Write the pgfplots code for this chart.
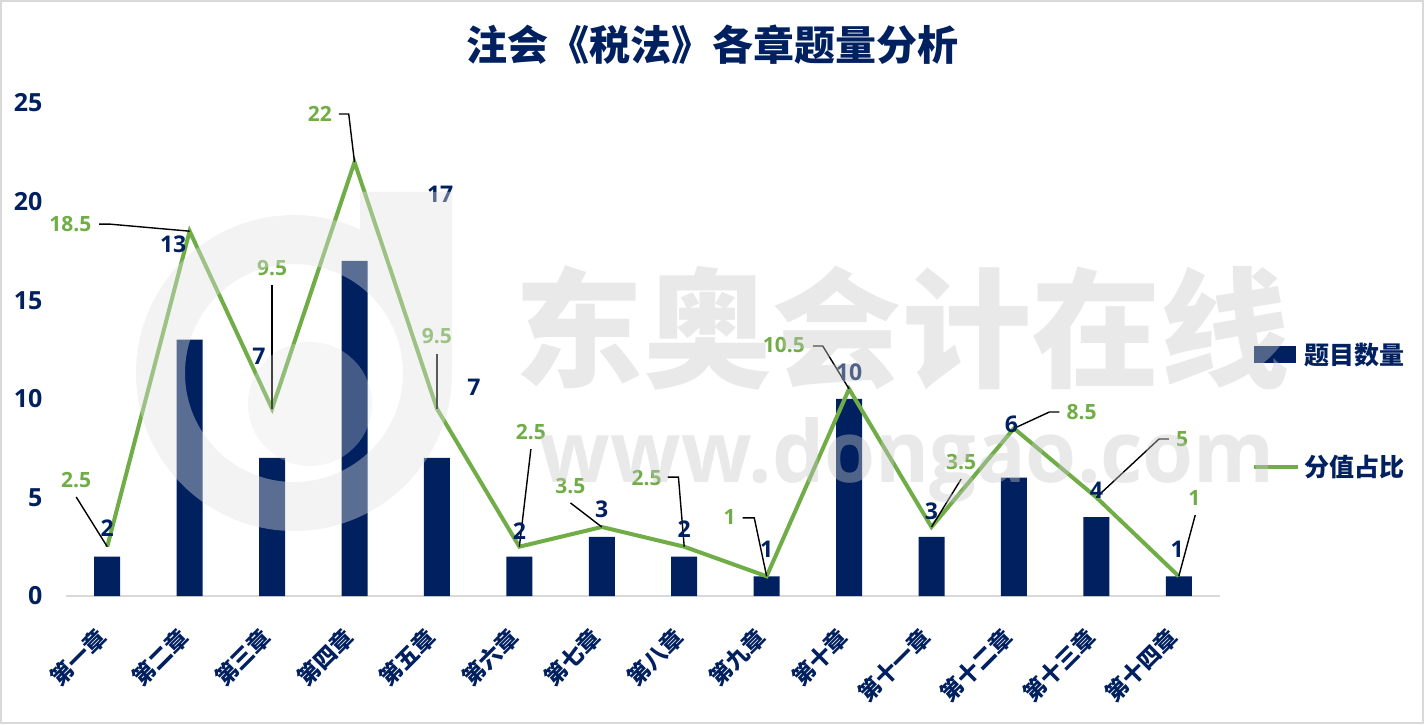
\documentclass[border=0pt]{standalone}
\usepackage{fontspec}
\setmainfont{Open Sans}
\newfontfamily\cjk{Noto Sans CJK SC}
\usepackage{pgfplots}
\pgfplotsset{compat=1.18}
\definecolor{navy}{HTML}{002060}
\definecolor{lgreen}{HTML}{70AD47}
\definecolor{wm}{HTML}{E3E3E3}
\definecolor{wmt}{HTML}{C8C8C8}
\tikzset{
  bl/.style={font=\bfseries\fontsize{11.5}{13}\selectfont, text=navy, inner sep=0pt},
  gl/.style={font=\bfseries\fontsize{10.5}{12}\selectfont, text=lgreen, inner sep=0pt},
  ld/.style={draw=black, line width=0.7pt},
}
\begin{document}
\begin{tikzpicture}
\useasboundingbox (0,0) rectangle (712pt,362pt);
\fill[white] (0,0) rectangle (712pt,362pt);
\begin{axis}[
  at={(33pt,64pt)}, anchor=south west,
  scale only axis, width=577pt, height=246.5pt,
  xmin=-0.5, xmax=13.5, ymin=0, ymax=25,
  axis x line=bottom, axis y line=left,
  axis line style={-},
  x axis line style={draw=black!15, line width=1pt},
  y axis line style={draw=none},
  tick style={draw=none},
  xtick={0,...,13},
  xticklabels={第一章,第二章,第三章,第四章,第五章,第六章,第七章,第八章,第九章,第十章,第十一章,第十二章,第十三章,第十四章},
  ytick={0,5,...,25},
  clip=false,
  /pgf/number format/assume math mode=true,
  yticklabel style={font=\bfseries\fontsize{12.5}{14}\selectfont, text=navy, anchor=east, inner sep=0pt, xshift=-9.5pt},
  xticklabel style={font=\cjk\bfseries\fontsize{11.3}{13}\selectfont, text=navy, inner sep=0pt, xshift=-2.5pt, yshift=-16.5pt, rotate=45, anchor=east},
  legend style={at={(1.0277,0.375)}, anchor=west, draw=none, fill=none,
    font=\cjk\bfseries\fontsize{12.5}{14}\selectfont, text=navy, row sep=40pt, inner sep=0pt},
  legend cell align=left,
]
\addplot[ybar, bar width=13pt, bar shift=0pt, fill=navy, draw=none,
  legend image code/.code={\fill[navy] (0pt,-4.25pt) rectangle (21pt,4.25pt);}]
  coordinates {(0,2) (1,13) (2,7) (3,17) (4,7) (5,2) (6,3) (7,2) (8,1) (9,10) (10,3) (11,6) (12,4) (13,1)};
\addlegendentry{题目数量}
\addplot[lgreen, line width=2pt, mark=none, sharp plot, line join=miter,
  legend image code/.code={\draw[lgreen, line width=2pt] (0pt,0pt) -- (22pt,0pt);}]
  coordinates {(0,2.5) (1,18.5) (2,9.5) (3,22) (4,9.5) (5,2.5) (6,3.5) (7,2.5) (8,1) (9,10.5) (10,3.5) (11,8.5) (12,5) (13,1)};
\addlegendentry{分值占比}

\draw[ld] (axis cs:-0.376,5.02) -- (axis cs:0,2.5);
\draw[ld] (axis cs:-0.097,18.86) -- (axis cs:0.024,18.86) -- (axis cs:1,18.5);
\draw[ld] (axis cs:2,15.77) -- (axis cs:2,9.5);
\draw[ld] (axis cs:2.81,24.44) -- (axis cs:2.93,24.44) -- (axis cs:3,22);
\draw[ld] (axis cs:4,12.27) -- (axis cs:4,9.5);
\draw[ld] (axis cs:5.14,7.45) -- (axis cs:5,2.5);
\draw[ld] (axis cs:5.62,4.72) -- (axis cs:6,3.5);
\draw[ld] (axis cs:6.80,6.03) -- (axis cs:6.93,6.03) -- (axis cs:7,2.5);
\draw[ld] (axis cs:7.71,3.96) -- (axis cs:7.85,3.96) -- (axis cs:8,1);
\draw[ld] (axis cs:8.56,12.68) -- (axis cs:8.68,12.68) -- (axis cs:9,10.5);
\draw[ld] (axis cs:10.36,5.93) -- (axis cs:10,3.5);
\draw[ld] (axis cs:11,8.5) -- (axis cs:11.43,9.33) -- (axis cs:11.55,9.33);
\draw[ld] (axis cs:12.88,7.96) -- (axis cs:12.76,7.96) -- (axis cs:12,5);
\draw[ld] (axis cs:13.2,4.11) -- (axis cs:13,1);

\node[gl] at (axis cs:-0.376,5.88) {2.5};
\node[bl] at (axis cs:0,3.45) {2};
\node[gl] at (axis cs:-0.448,18.86) {18.5};
\node[bl] at (axis cs:0.8,17.85) {13};
\node[gl] at (axis cs:2,16.63) {9.5};
\node[bl] at (axis cs:1.84,12.17) {7};
\node[gl] at (axis cs:2.58,24.44) {22};
\node[bl] at (axis cs:4.04,20.39) {17};
\node[gl] at (axis cs:4,13.18) {9.5};
\node[bl] at (axis cs:4.45,10.6) {7};
\node[gl] at (axis cs:5.14,8.32) {2.5};
\node[bl] at (axis cs:5,3.30) {2};
\node[gl] at (axis cs:5.62,5.58) {3.5};
\node[bl] at (axis cs:6,4.41) {3};
\node[gl] at (axis cs:6.545,5.98) {2.5};
\node[bl] at (axis cs:7,3.40) {2};
\node[gl] at (axis cs:7.55,4.01) {1};
\node[bl] at (axis cs:8,2.38) {1};
\node[gl] at (axis cs:8.21,12.73) {10.5};
\node[bl] at (axis cs:9,11.36) {10};
\node[gl] at (axis cs:10.36,6.80) {3.5};
\node[bl] at (axis cs:10,4.31) {3};
\node[gl] at (axis cs:11.82,9.33) {8.5};
\node[bl] at (axis cs:10.97,8.72) {6};
\node[gl] at (axis cs:13.04,7.96) {5};
\node[bl] at (axis cs:12,5.38) {4};
\node[gl] at (axis cs:13.19,4.97) {1};
\node[bl] at (axis cs:12.98,2.38) {1};
\end{axis}

% title
\node[font=\cjk\bfseries\fontsize{20.5}{24}\selectfont, text=navy, inner sep=0pt] at (356pt,339.5pt) {注会《税法》各章题量分析};

% watermark overlay
\begin{scope}[opacity=0.4]
\fill[wm, even odd rule] (226pt,175.5pt) arc[start angle=0, end angle=-294.7, radius=79pt] -- (180pt,266pt) -- (226pt,266pt) -- cycle
  (147pt,175.5pt) circle[radius=54.5pt];
\end{scope}
\fill[wm, opacity=0.3] (155pt,160pt) circle[radius=31pt];
\node[text=wmt, text opacity=0.4, anchor=center, inner sep=0pt] at (451pt,198pt) {\resizebox{387.5pt}{!}{\cjk\bfseries 东奥会计在线}};
\node[text=wmt, text opacity=0.4, anchor=base, inner sep=0pt] at (453.75pt,121pt) {\resizebox{367.5pt}{32.5pt}{\bfseries www.dongao.com}};

\draw[black!15, line width=1pt] (0.5pt,0.5pt) rectangle (711.5pt,361.5pt);
\end{tikzpicture}
\end{document}
